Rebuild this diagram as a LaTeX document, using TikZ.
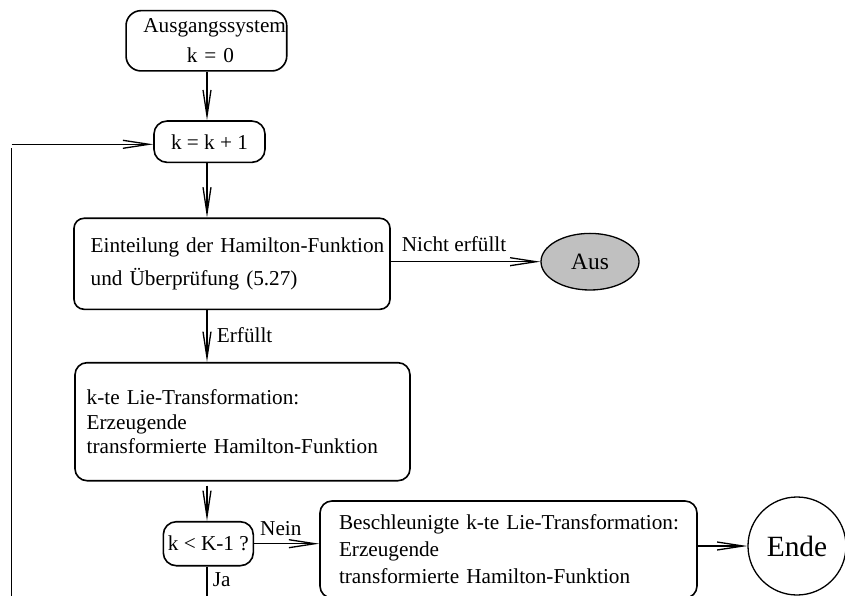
\documentclass[tikz,border=0pt]{standalone}
\usepackage{fontspec}
\setmainfont{Liberation Serif}
\usetikzlibrary{arrows.meta,shapes.geometric}
\definecolor{ausgray}{RGB}{192,192,192}
\tikzset{
  conn/.style={line width=1.3bp, -{Straight Barb[length=26bp,width=8bp]}},
  plain/.style={line width=1.3bp},
  box/.style={draw, line width=1.6bp, inner sep=0pt, font=\fontsize{21.3}{33}\selectfont},
  lbl/.style={anchor=base west, inner sep=0pt, font=\fontsize{21.3}{26}\selectfont},
}
\begin{document}
\begin{tikzpicture}[x=1bp,y=-1bp]
\useasboundingbox (0,0) rectangle (845,596);
\fill[white] (0,0) rectangle (845,596);
\clip (0,0) rectangle (845,596);

\node[box, rounded corners=15bp, minimum width=160.7bp, minimum height=60.3bp,
      text width=160.7bp, align=left, font=\fontsize{21.3}{30}\selectfont]
  (ausg) at (206.4,40.8) {\hspace*{17.3bp}Ausgangssystem\\\hspace*{60.7bp}k = 0};

\node[box, rounded corners=13bp, minimum width=111bp, minimum height=41.3bp]
  (kk) at (209.5,141.7) {k = k + 1};

\node[box, rounded corners=10bp, minimum width=316bp, minimum height=91bp,
      text width=316bp, align=left]
  (ein) at (232,263.8) {\hspace*{16.7bp}Einteilung der Hamilton-Funktion\\\hspace*{16.7bp}und Überprüfung (5.27)};

\node[ellipse, draw, fill=ausgray, line width=1.3bp, minimum width=98bp,
      minimum height=56.6bp, inner sep=0pt, font=\fontsize{23.5}{28}\selectfont]
  (aus) at (590,261.7) {Aus};

\node[box, rounded corners=12bp, minimum width=335bp, minimum height=118bp,
      text width=335bp, align=left, font=\fontsize{21.3}{24.5}\selectfont]
  (kte) at (242.5,421.7) {\hspace*{11.7bp}k-te Lie-Transformation:\\\hspace*{11.7bp}Erzeugende\\\hspace*{11.7bp}transformierte Hamilton-Funktion};

\node[box, rounded corners=13bp, minimum width=90bp, minimum height=44bp]
  (kq) at (208.3,543.7) {k < K-1 ?};

\node[box, rounded corners=12bp, minimum width=377bp, minimum height=97bp,
      text width=377bp, align=left, font=\fontsize{21.3}{27}\selectfont]
  (bes) at (508.5,549.5) {\hspace*{19bp}Beschleunigte k-te Lie-Transformation:\\\hspace*{19bp}Erzeugende\\\hspace*{19bp}transformierte Hamilton-Funktion};

\node[circle, draw, line width=1.3bp, minimum size=98bp, inner sep=0pt,
      font=\fontsize{29.5}{34}\selectfont]
  (ende) at (797,546) {Ende};

\coordinate (col) at (207,0);
\coordinate (bot) at (207,600);
\coordinate (lb) at (11.7,600);
\coordinate (lt) at (11.7,148.3);
\coordinate (lh) at (11.7,144.3);

\draw[conn] (col |- ausg.south) -- (col |- kk.north);
\draw[conn] (col |- kk.south) -- (col |- ein.north);
\draw[conn] (col |- ein.south) -- (col |- kte.north);
\draw[conn, shorten <=4bp] (col |- kte.south) -- (col |- kq.north);
\draw[plain] (col |- kq.south) -- (bot);
\draw[conn] (aus.west -| ein.east) -- (aus.west);
\draw[conn] (kq.east) -- (kq.east -| bes.west);
\draw[conn] (ende.west -| bes.east) -- (ende.west);
\draw[plain] (lb) -- (lt);
\draw[conn] (lh) -- (lh -| kk.west);

\node[lbl] (nlab) at (401.7,251.7) {Nicht erfüllt};
\node[lbl] (elab) at (216.7,342.5) {Erfüllt};
\node[lbl] (nein) at (260,535) {Nein};
\node[lbl] (ja) at (212.7,586.5) {Ja};
\end{tikzpicture}
\end{document}
